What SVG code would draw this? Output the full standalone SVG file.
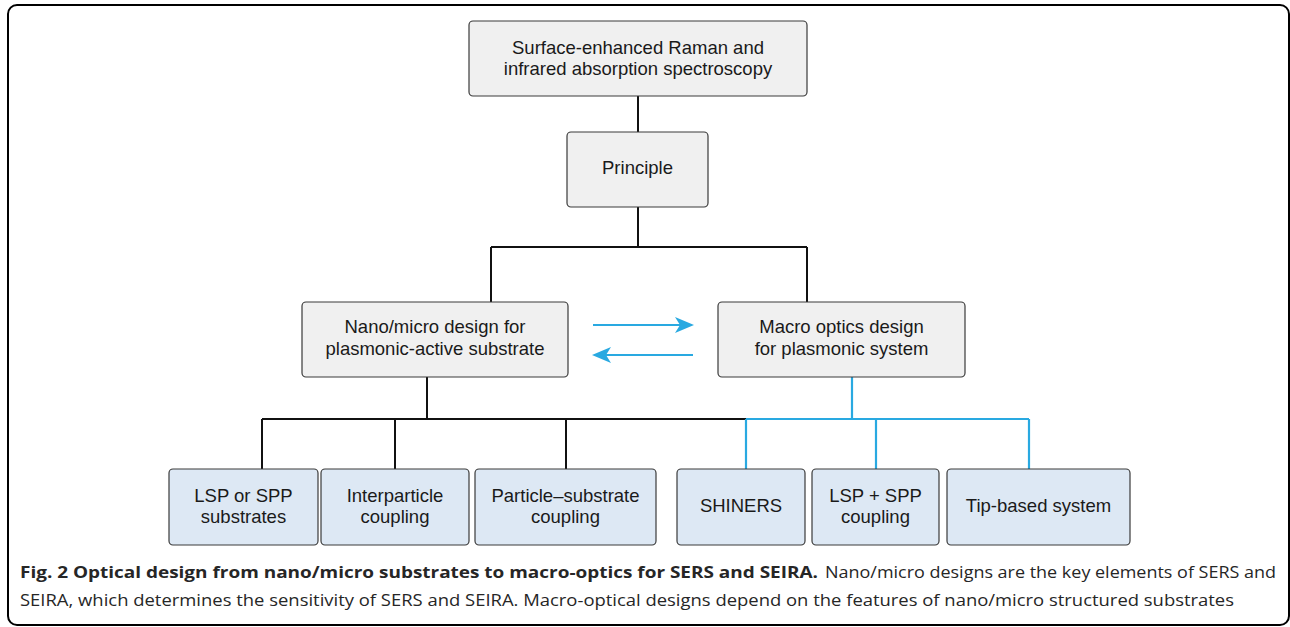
<svg xmlns="http://www.w3.org/2000/svg" width="1290" height="627" viewBox="0 0 1290 627">
<style>
.box{stroke:#3a3a3a;stroke-width:1.2}
.g{fill:#f0f0f0}
.b{fill:#dde8f4}
.t{font-family:"Liberation Sans",Arial,sans-serif;font-size:18.5px;fill:#1a1a1a;text-anchor:middle}
.k{fill:none;stroke:#111;stroke-width:2}
.bl{fill:none;stroke:#29a9e1;stroke-width:2.2}
.ah{fill:#29a9e1}
.cap{font-family:"Open Sans","Noto Sans",sans-serif;font-size:16px;fill:#262626}
</style>
<rect x="8" y="5" width="1281" height="620" rx="9" fill="#fff" stroke="#000" stroke-width="2"/>
<g id="connectors">
<path class="k" d="M638,96 V132"/>
<path class="k" d="M638,207 V247 M491,247 H807 M491,247 V302 M807,247 V302"/>
<path class="k" d="M427,377 V419 M262,419 H746 M262,419 V469 M395,419 V469 M566,419 V469"/>
<path class="bl" d="M852,377 V419 M746,419 H1029 M746,419 V469 M876,419 V469 M1029,419 V469"/>
<path class="bl" d="M593,325 H682"/>
<path class="ah" d="M694,325 L675,317 L680,325 L675,333 Z"/>
<path class="bl" d="M693,355 H604"/>
<path class="ah" d="M592,355 L611,347 L606,355 L611,363 Z"/>
</g>
<g id="n-top">
<rect class="box g" x="469" y="21" width="338" height="75" rx="4"/>
<text class="t" x="638" y="53.5">Surface-enhanced Raman and</text>
<text class="t" x="638" y="74.5">infrared absorption spectroscopy</text>
</g>
<g id="n-principle">
<rect class="box g" x="567" y="132" width="141" height="75" rx="4"/>
<text class="t" x="637.5" y="174">Principle</text>
</g>
<g id="n-nano">
<rect class="box g" x="302" y="302" width="266" height="75" rx="4"/>
<text class="t" x="435" y="333">Nano/micro design for</text>
<text class="t" x="435" y="355">plasmonic-active substrate</text>
</g>
<g id="n-macro">
<rect class="box g" x="718" y="302" width="247" height="75" rx="4"/>
<text class="t" x="841.5" y="333">Macro optics design</text>
<text class="t" x="841.5" y="355">for plasmonic system</text>
</g>
<g id="n-lsp">
<rect class="box b" x="169" y="469" width="149" height="76" rx="4"/>
<text class="t" x="243.5" y="501.5">LSP or SPP</text>
<text class="t" x="243.5" y="522.5">substrates</text>
</g>
<g id="n-inter">
<rect class="box b" x="321" y="469" width="148" height="76" rx="4"/>
<text class="t" x="395" y="501.5">Interparticle</text>
<text class="t" x="395" y="522.5">coupling</text>
</g>
<g id="n-particle">
<rect class="box b" x="475" y="469" width="181" height="76" rx="4"/>
<text class="t" x="565.5" y="501.5">Particle–substrate</text>
<text class="t" x="565.5" y="522.5">coupling</text>
</g>
<g id="n-shiners">
<rect class="box b" x="677" y="469" width="128" height="76" rx="4"/>
<text class="t" x="741" y="512">SHINERS</text>
</g>
<g id="n-lspspp">
<rect class="box b" x="812" y="469" width="127" height="76" rx="4"/>
<text class="t" x="875.5" y="501.5">LSP + SPP</text>
<text class="t" x="875.5" y="522.5">coupling</text>
</g>
<g id="n-tip">
<rect class="box b" x="947" y="469" width="183" height="76" rx="4"/>
<text class="t" x="1038.5" y="512">Tip-based system</text>
</g>
<g id="caption">
<text class="cap" x="20" y="578" font-weight="bold" textLength="798" lengthAdjust="spacingAndGlyphs">Fig. 2 Optical design from nano/micro substrates to macro-optics for SERS and SEIRA.</text>
<text class="cap" x="825" y="578" textLength="451" lengthAdjust="spacingAndGlyphs">Nano/micro designs are the key elements of SERS and</text>
<text class="cap" x="20" y="606" textLength="1214" lengthAdjust="spacingAndGlyphs">SEIRA, which determines the sensitivity of SERS and SEIRA. Macro-optical designs depend on the features of nano/micro structured substrates</text>
</g>
</svg>
